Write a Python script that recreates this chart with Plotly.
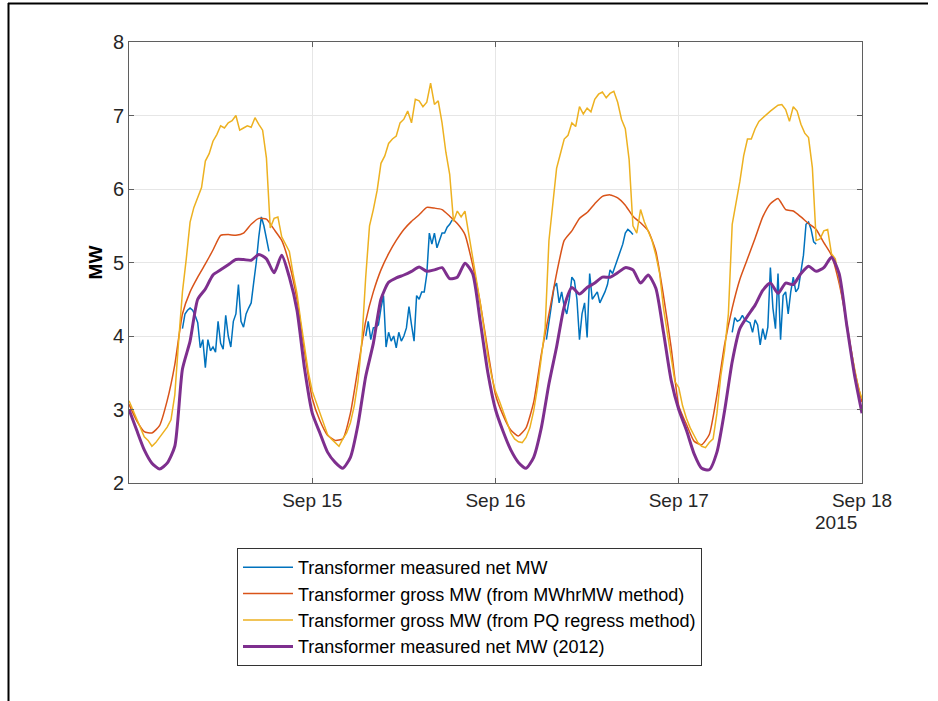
import pandas as pd
import plotly.graph_objects as go

# ---------------- data ----------------
start_time = "2015-09-14 00:00"

# Transformer measured net MW (2012) – hourly
purple_vals = [
    3.0, 2.72, 2.45, 2.27, 2.19, 2.27, 2.5, 3.55, 3.93, 4.5, 4.64, 4.83, 4.9, 4.97, 5.04, 5.04, 5.03, 5.11, 5.05, 4.86, 5.1, 4.8, 4.35, 3.55,
    2.95, 2.68, 2.42, 2.28, 2.2, 2.35, 2.8, 3.45, 3.9, 4.5, 4.73, 4.79, 4.83, 4.88, 4.94, 4.88, 4.9, 4.93, 4.78, 4.8, 4.99, 4.85, 4.2, 3.5,
    3.0, 2.7, 2.45, 2.28, 2.2, 2.35, 2.75, 3.35, 3.85, 4.4, 4.66, 4.57, 4.66, 4.72, 4.8, 4.8, 4.86, 4.93, 4.9, 4.72, 4.83, 4.65, 4.05, 3.4,
    3.0, 2.72, 2.4, 2.2, 2.18, 2.42, 2.98, 3.65, 4.1, 4.27, 4.42, 4.62, 4.72, 4.58, 4.72, 4.7, 4.85, 4.95, 4.88, 4.93, 5.07, 4.85, 4.15, 3.48,
    2.95,
]

# Transformer gross MW (from MWhrMW method) – hourly
orange_vals = [
    3.07, 2.85, 2.7, 2.68, 2.78, 3.12, 3.61, 4.3, 4.6, 4.8, 4.98, 5.17, 5.37, 5.38, 5.37, 5.4, 5.52, 5.6, 5.59, 5.45, 5.3, 4.98, 4.5, 3.78,
    3.15, 2.85, 2.65, 2.58, 2.6, 2.95, 3.57, 4.2, 4.6, 4.9, 5.12, 5.3, 5.45, 5.56, 5.65, 5.75, 5.74, 5.72, 5.63, 5.53, 5.38, 4.97, 4.45, 3.8,
    3.2, 2.92, 2.72, 2.64, 2.75, 3.1, 3.75, 4.3, 4.85, 5.3, 5.43, 5.6, 5.68, 5.8, 5.9, 5.92, 5.88, 5.78, 5.63, 5.54, 5.43, 5.15, 4.55, 3.85,
    3.05, 2.8, 2.57, 2.52, 2.66, 3.2, 3.88, 4.38, 4.77, 5.05, 5.33, 5.62, 5.8, 5.87, 5.72, 5.7, 5.62, 5.53, 5.45, 5.27, 5.1, 4.72, 4.18, 3.55,
    3.1,
]

# Transformer gross MW (from PQ regress method) – half-hourly
yellow_vals = [
    3.12, 3.0, 2.88, 2.75, 2.63, 2.58, 2.5, 2.55, 2.62, 2.7, 2.76, 2.86, 3.2, 3.93, 4.6, 5.05, 5.55, 5.75, 5.9, 6.02, 6.38, 6.48, 6.65, 6.74,
    6.86, 6.83, 6.9, 6.93, 7.0, 6.8, 6.83, 6.86, 6.84, 6.97, 6.88, 6.8, 6.42, 5.47, 5.6, 5.62, 5.35, 5.25, 5.15, 4.84, 4.58, 4.2, 3.87, 3.5,
    3.25, 3.1, 2.93, 2.8, 2.66, 2.6, 2.55, 2.5, 2.6, 2.68, 2.82, 3.05, 3.39, 3.93, 4.8, 5.5, 5.72, 5.98, 6.35, 6.45, 6.62, 6.68, 6.72, 6.9,
    6.95, 7.06, 6.9, 7.22, 7.2, 7.12, 7.18, 7.44, 7.15, 7.2, 6.9, 6.5, 6.2, 5.56, 5.7, 5.62, 5.7, 5.4, 5.06, 4.78, 4.45, 4.1, 3.72, 3.45,
    3.25, 3.12, 2.97, 2.83, 2.68, 2.6, 2.56, 2.55, 2.62, 2.75, 2.98, 3.3, 3.68, 4.11, 5.3, 5.78, 6.28, 6.48, 6.68, 6.73, 6.9, 6.85, 7.12, 7.02,
    7.1, 7.05, 7.22, 7.29, 7.32, 7.24, 7.3, 7.33, 7.18, 6.95, 6.82, 6.4, 5.5, 5.4, 5.72, 5.55, 5.43, 5.3, 5.1, 4.85, 4.38, 4.05, 3.7, 3.38,
    3.3, 3.05, 2.88, 2.75, 2.65, 2.55, 2.5, 2.48, 2.55, 2.6, 2.95, 3.45, 3.8, 4.3, 5.52, 5.8, 6.1, 6.45, 6.68, 6.68, 6.82, 6.92, 6.97, 7.02,
    7.06, 7.1, 7.14, 7.15, 7.08, 6.92, 7.12, 7.06, 6.88, 6.76, 6.7, 6.29, 5.3, 5.32, 5.43, 5.45, 5.12, 5.05, 4.75, 4.5, 4.12, 3.85, 3.55, 3.3,
    3.15,
]

# Transformer measured net MW – 20-minute samples, daytime only
blue_day_starts = ["2015-09-14 07:00", "2015-09-15 07:00", "2015-09-16 06:40", "2015-09-17 07:00"]
blue_day1 = [4.1, 4.3, 4.35, 4.38, 4.35, 4.28, 4.18, 3.84, 3.95, 3.57, 3.95, 3.8, 3.85, 3.78, 4.2, 3.9, 3.82, 4.28,
             4.0, 3.85, 4.2, 4.3, 4.7, 4.2, 4.12, 4.3, 4.38, 4.45, 4.73, 5.0, 5.35, 5.62, 5.5, 5.3, 5.15]
blue_day2 = [4.0, 4.2, 3.95, 4.11, 4.12, 4.15, 4.38, 4.55, 3.85, 4.05, 3.93, 4.0, 3.84, 4.05, 3.93, 4.0, 4.11, 4.4,
             4.15, 3.93, 4.55, 4.5, 4.6, 4.6, 4.84, 5.4, 5.25, 5.4, 5.2, 5.3, 5.4, 5.4, 5.48, 5.52, 5.58]
blue_day3 = [3.95, 4.2, 4.4, 4.66, 4.72, 4.45, 4.6, 4.4, 4.3, 4.5, 4.8, 4.75, 4.5, 3.95, 4.3, 4.45, 3.98, 4.85,
             4.5, 4.55, 4.6, 4.45, 4.52, 4.6, 4.7, 4.9, 4.85, 4.95, 5.05, 5.15, 5.25, 5.4, 5.45, 5.42, 5.38]
blue_day4 = [4.05, 4.25, 4.2, 4.22, 4.28, 4.22, 4.2, 4.18, 4.05, 4.22, 4.15, 3.88, 4.1, 3.95, 4.12, 4.93, 4.38,
             4.1, 4.85, 3.95, 4.55, 4.6, 4.3, 4.6, 4.8, 4.6, 4.65, 4.87, 5.1, 5.52, 5.55, 5.45, 5.28, 5.25]

series_names = [
    "Transformer measured net MW",
    "Transformer gross MW (from MWhrMW method)",
    "Transformer gross MW (from PQ regress method)",
    "Transformer measured net MW (2012)",
]
tick_dates = ["2015-09-15", "2015-09-16", "2015-09-17", "2015-09-18"]
tick_labels = ["Sep 15", "Sep 16", "Sep 17", "Sep 18"]
y_ticks = [2, 3, 4, 5, 6, 7, 8]

# ---------------- build ----------------
t_hour = pd.date_range(start_time, periods=len(purple_vals), freq="h")
t_hour_o = pd.date_range(start_time, periods=len(orange_vals), freq="h")
t_half = pd.date_range(start_time, periods=len(yellow_vals), freq="30min")

bx, by = [], []
for st, vals in zip(blue_day_starts, [blue_day1, blue_day2, blue_day3, blue_day4]):
    ts = pd.date_range(st, periods=len(vals), freq="20min")
    bx += list(ts) + [ts[-1] + pd.Timedelta(minutes=10)]
    by += list(vals) + [None]

colors = ["#0072BD", "#D95319", "#EDB120", "#7E2F8E"]

fig = go.Figure()
fig.add_trace(go.Scatter(x=bx, y=by, mode="lines", name=series_names[0],
                         line=dict(color=colors[0], width=1.5), connectgaps=False))
fig.add_trace(go.Scatter(x=t_hour_o, y=orange_vals, mode="lines", name=series_names[1],
                         line=dict(color=colors[1], width=1.5, shape="spline", smoothing=0.5)))
fig.add_trace(go.Scatter(x=t_half, y=yellow_vals, mode="lines", name=series_names[2],
                         line=dict(color=colors[2], width=1.5)))
fig.add_trace(go.Scatter(x=t_hour, y=purple_vals, mode="lines", name=series_names[3],
                         line=dict(color=colors[3], width=3, shape="spline", smoothing=0.6)))

# plot area pixel geometry
L, R, T, B = 129, 862, 42, 483
W, H = R - L, B - T

def px(xp):
    return (xp - L) / W

def py(yp):
    return (B - yp) / H

font_family = "Liberation Sans, Arial, Helvetica, sans-serif"
axis_col = "#5f5f5f"
text_col = "#262626"

fig.update_layout(
    width=938, height=701,
    margin=dict(l=L, r=938 - R, t=T, b=701 - B, autoexpand=False),
    paper_bgcolor="white", plot_bgcolor="white",
    font=dict(family=font_family, color=text_col),
    showlegend=True,
    legend=dict(
        x=px(237), y=py(548), xanchor="left", yanchor="top",
        bgcolor="white", bordercolor="#333333", borderwidth=1,
        font=dict(size=18, family=font_family, color="#000000"),
        tracegroupgap=0, itemwidth=50,
    ),
    xaxis=dict(
        range=["2015-09-14 00:00", "2015-09-18 00:00"],
        tickmode="array", tickvals=tick_dates, ticktext=tick_labels,
        tickfont=dict(size=19, color=text_col),
        showgrid=True, gridcolor="#e6e6e6", gridwidth=1,
        showline=True, linecolor=axis_col, linewidth=1, mirror="ticks",
        ticks="inside", ticklen=5, tickcolor=axis_col, zeroline=False,
    ),
    yaxis=dict(
        range=[2, 8], tickmode="array", tickvals=y_ticks,
        tickfont=dict(size=20, color=text_col),
        showgrid=True, gridcolor="#e6e6e6", gridwidth=1,
        showline=True, linecolor=axis_col, linewidth=1, mirror="ticks",
        ticks="inside", ticklen=5, tickcolor=axis_col, zeroline=False,
        title=dict(text="<b>MW</b>", font=dict(size=19, color="#000000"), standoff=5),
    ),
    annotations=[
        dict(text="2015", xref="paper", yref="paper", x=px(859), y=py(522),
             xanchor="right", yanchor="middle", showarrow=False,
             font=dict(size=19, color=text_col, family=font_family)),
    ],
    shapes=[
        dict(type="line", xref="paper", yref="paper", x0=px(8.5), x1=px(8.5), y0=py(3), y1=py(701),
             line=dict(color="black", width=2)),
        dict(type="line", xref="paper", yref="paper", x0=px(8), x1=px(928), y0=py(3.5), y1=py(3.5),
             line=dict(color="black", width=2)),
    ],
)

fig.write_html("out.html")
